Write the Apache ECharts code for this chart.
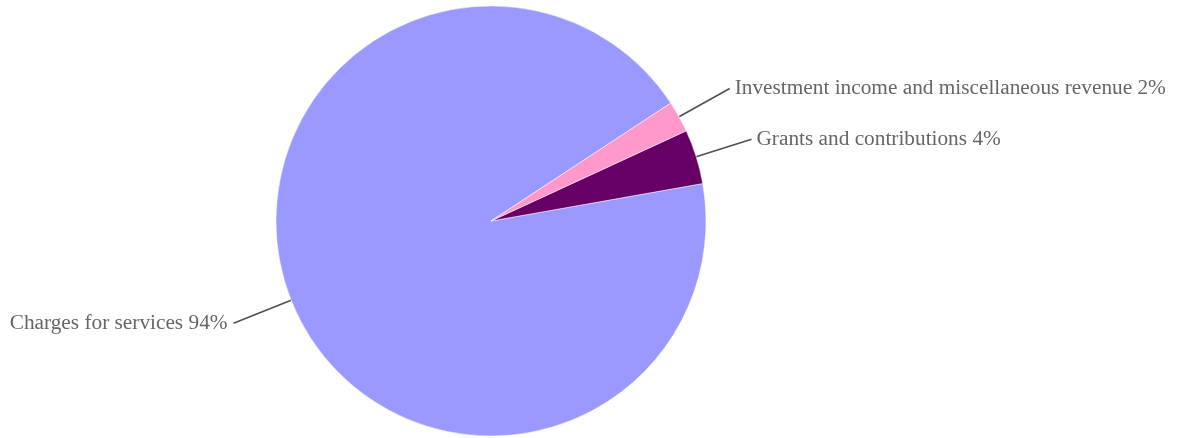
<!DOCTYPE html>
<html>
<head>
<meta charset="utf-8">
<title>Revenue sources</title>
<script src="https://cdn.jsdelivr.net/npm/echarts@6/dist/echarts.min.js"></script>
<style>
  html, body { margin: 0; padding: 0; background: #ffffff; }
  #chart { width: 1185px; height: 438px; }
</style>
</head>
<body>
<div id="chart"></div>
<script>
// Revenue sources, share of total (percent)
const categories = [
  'Charges for services',
  'Grants and contributions',
  'Investment income and miscellaneous revenue'
];
const shares = [93.55, 4.1, 2.35];
const sliceColors = ['#9999FF', '#660066', '#FF99CC'];

const chart = echarts.init(document.getElementById('chart'), null, { renderer: 'canvas' });

chart.setOption({
  animation: false,
  backgroundColor: '#ffffff',
  series: [{
    type: 'pie',
    center: [491, 221],
    radius: 215,
    startAngle: 33.25,
    clockwise: false,
    avoidLabelOverlap: false,
    data: categories.map((name, i) => ({
      name: name,
      value: shares[i],
      itemStyle: { color: sliceColors[i] },
      // the left-hand leader runs a little longer
      labelLine: i === 0 ? { length: 62 } : undefined,
      label: i === 0 ? { distanceToLabelLine: 6 } : undefined
    })),
    itemStyle: { borderColor: '#ffffff', borderWidth: 0.5 },
    label: {
      show: true,
      position: 'outside',
      fontFamily: '"Liberation Serif", "DejaVu Serif", serif',
      fontSize: 21.3,
      color: '#666666',
      distanceToLabelLine: 5,
      formatter: p => p.name + ' ' + Math.round(p.percent) + '%'
    },
    labelLine: {
      show: true,
      length: 58,
      length2: 0,
      lineStyle: { color: '#505050', width: 1.6 }
    },
    emphasis: { disabled: true }
  }]
});
</script>
</body>
</html>
